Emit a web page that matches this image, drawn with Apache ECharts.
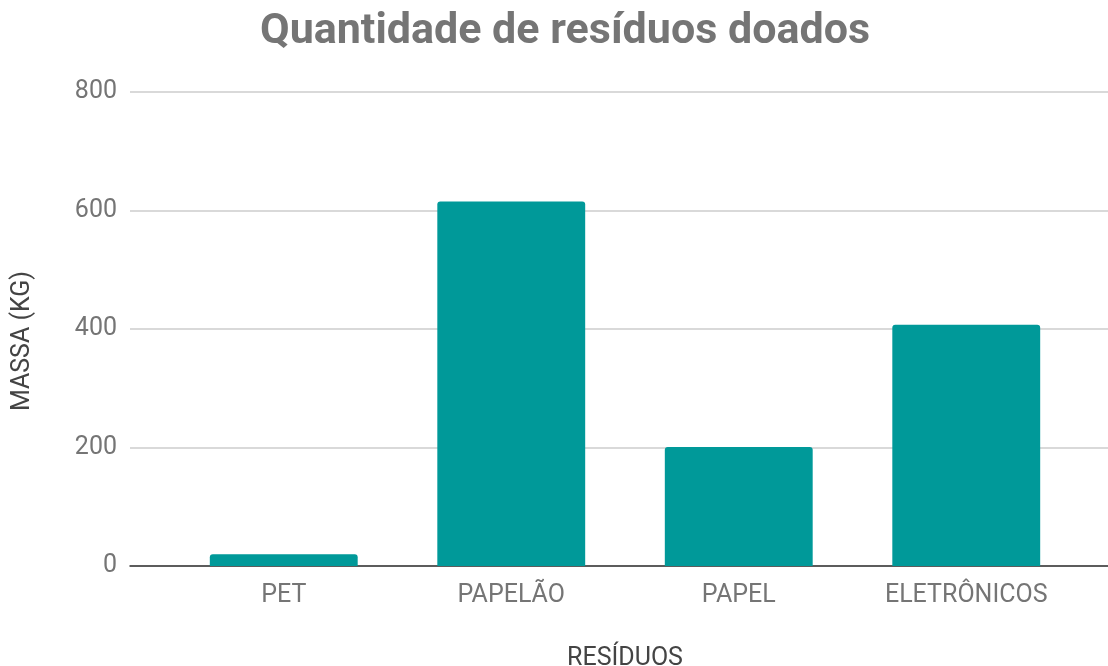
<!DOCTYPE html>
<html>
<head>
<meta charset="utf-8">
<title>Quantidade de resíduos doados</title>
<script src="https://cdn.jsdelivr.net/npm/echarts@6/dist/echarts.min.js"></script>
<style>
  html, body { margin: 0; padding: 0; background: #fff; }
  #chart { width: 1108px; height: 666px; }
</style>
</head>
<body>
<div id="chart"></div>
<script>
// data
const categories = ['PET', 'PAPELÃO', 'PAPEL', 'ELETRÔNICOS'];
const massKg = [20, 615, 201, 407];
const yTicks = [0, 200, 400, 600, 800];

const gray = '#757575';
const font = 'Roboto, "Noto Sans", sans-serif';

const chart = echarts.init(document.getElementById('chart'), null, { renderer: 'canvas' });

const opts = {
  animation: false,
  title: {
    text: 'Quantidade de resíduos doados',
    left: 255,
    top: 6,
    textStyle: { fontFamily: font, fontSize: 43, fontWeight: 'bold', color: gray },
  },
  grid: [
    // full-width grid: gridlines, zero line, y axis
    { left: 130, right: 0, top: 92, bottom: 100, outerBoundsMode: 'none' },
    // inset grid where the bars live
    { left: 170, right: 28, top: 92, bottom: 100, outerBoundsMode: 'none' },
  ],
  xAxis: [
    {
      gridIndex: 0,
      type: 'category',
      data: categories,
      axisLine: { lineStyle: { color: '#333', width: 1.5 } },
      axisTick: { show: false },
      axisLabel: { show: false },
    },
    {
      gridIndex: 1,
      type: 'category',
      data: categories,
      axisLine: { show: false },
      axisTick: { show: false },
      axisLabel: { fontFamily: font, fontSize: 25, color: gray, margin: 17 },
      name: 'RESÍDUOS',
      nameLocation: 'middle',
      nameGap: 80,
      nameTextStyle: { fontFamily: font, fontSize: 25, color: '#444' },
    },
  ],
  yAxis: [
    {
      gridIndex: 0,
      type: 'value',
      min: yTicks[0],
      max: yTicks[yTicks.length - 1],
      interval: 200,
      axisLine: { show: false },
      axisTick: { show: false },
      axisLabel: { fontFamily: font, fontSize: 25, color: gray, margin: 13 },
      splitLine: { lineStyle: { color: '#cccccc', width: 1.5 } },
      name: 'MASSA (KG)',
      nameLocation: 'middle',
      nameGap: 95,
      nameTextStyle: { fontFamily: font, fontSize: 25, color: '#444', padding: [0, 24, 0, 0] },
    },
    {
      gridIndex: 1,
      type: 'value',
      min: yTicks[0],
      max: yTicks[yTicks.length - 1],
      interval: 200,
      show: false,
    },
  ],
  series: [
    {
      type: 'bar',
      xAxisIndex: 1,
      yAxisIndex: 1,
      data: massKg,
      barCategoryGap: '35%',
      itemStyle: { color: '#009999', borderRadius: [3, 3, 0, 0] },
    },
  ],
};

chart.setOption(opts);
</script>
</body>
</html>
